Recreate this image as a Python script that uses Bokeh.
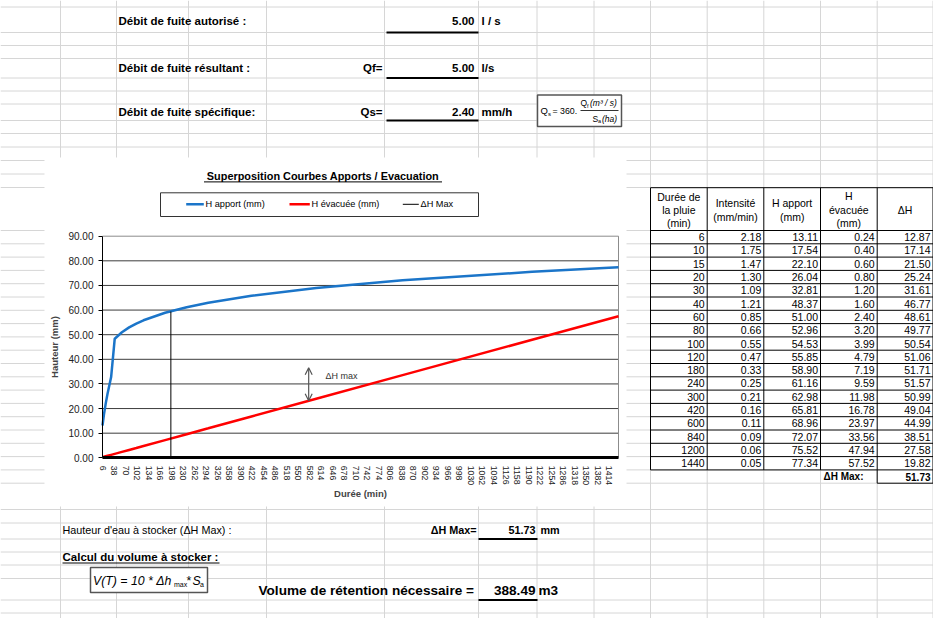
from bokeh.plotting import figure
from bokeh.models import (Range1d, LinearAxis, FixedTicker, PrintfTickFormatter,
                          Arrow, OpenHead, Label)
from bokeh.core.properties import value
from bokeh.embed import file_html
from bokeh.resources import INLINE

# ---------------- data ----------------
durations = [6, 10, 15, 20, 30, 40, 60, 80, 100, 120, 180, 240, 300, 420, 600, 840, 1200, 1440]
intensite = [2.18, 1.75, 1.47, 1.30, 1.09, 1.21, 0.85, 0.66, 0.55, 0.47, 0.33, 0.25, 0.21, 0.16, 0.11, 0.09, 0.06, 0.05]
h_apport = [13.11, 17.54, 22.10, 26.04, 32.81, 48.37, 51.00, 52.96, 54.53, 55.85, 58.90, 61.16, 62.98, 65.81, 68.96, 72.07, 75.52, 77.34]
h_evacuee = [0.24, 0.40, 0.60, 0.80, 1.20, 1.60, 2.40, 3.20, 3.99, 4.79, 7.19, 9.59, 11.98, 16.78, 23.97, 33.56, 47.94, 57.52]
delta_h = [12.87, 17.14, 21.50, 25.24, 31.61, 46.77, 48.61, 49.77, 50.54, 51.06, 51.71, 51.57, 50.99, 49.04, 44.99, 38.51, 27.58, 19.82]
dh_max_line_t = [196, 196]
dh_max_line_h = [0.0, 59.4]
dh_max = 51.73
debit_autorise = 5.00
qf = 5.00
qs = 2.40
volume = 388.49
y_ticks = [0, 10, 20, 30, 40, 50, 60, 70, 80, 90]
x_tick_labels = [6, 38, 70, 102, 134, 166, 198, 230, 262, 294, 326, 358, 390, 422, 454,
                 486, 518, 550, 582, 614, 646, 678, 710, 742, 774, 806, 838, 870, 902, 934,
                 966, 998, 1030, 1062, 1094, 1126, 1158, 1190, 1222, 1254, 1286, 1318, 1350,
                 1382, 1414]
arrow_t = 579
arrow_h0 = 23.2
arrow_h1 = 36.6
arrow_label_t = 626
arrow_label_h = 33.4

# ---------------- page / styles ----------------
FONT = value("Liberation Sans")
W, H = 933, 618
X0, Y0 = 0, 0
BLUE = "#1B75C9"
RED = "#FF0000"
GRIDC = "#D6D6D6"

p = figure(width=W, height=H, x_range=Range1d(X0, X0 + W), y_range=Range1d(Y0 + H, Y0),
           output_backend="svg", toolbar_location=None, x_axis_type=None, y_axis_type=None,
           min_border=0, outline_line_color=None, background_fill_color="white",
           border_fill_color="white")
p.title.visible = False


def txt(x, y, s, size=10, bold=False, align="left", color="black", italic=False):
    style = "bold" if bold else ("italic" if italic else "normal")
    if bold and italic:
        style = "bold italic"
    p.text(x=[x], y=[y], text=[s], text_font=FONT, text_font_size=f"{size}px",
           text_font_style=style, text_align=align, text_baseline="middle", text_color=color)


def hline(x0, x1, y, color="black", width=1):
    p.segment(x0=[x0], x1=[x1], y0=[y], y1=[y], line_color=color, line_width=width)


def box(l, r, t, b, line="black", width=1, fill="white"):
    p.quad(left=[l], right=[r], top=[t], bottom=[b], fill_color=fill, line_color=line, line_width=width)


# ---------------- spreadsheet grid ----------------
row_lines = [6.5, 32, 45, 58, 77.5, 90.5, 103.5, 120, 133, 146.5, 160, 173.5, 187]
row_lines += [230 + 13.3 * k for k in range(20)]
row_lines += [509, 522.5, 538.5, 551.5, 564.5, 578, 599.5, 612.5]
col_lines = [60, 116, 188, 266, 384, 478, 536.5, 593.5, 650, 706.7, 763.3, 820, 876.7, 932.5]
p.segment(x0=X0, x1=X0 + W, y0=row_lines, y1=row_lines, line_color=GRIDC, line_width=1)
p.segment(x0=col_lines, x1=col_lines, y0=Y0, y1=Y0 + H, line_color=GRIDC, line_width=1)

# ---------------- top section ----------------
TS = 11.5
txt(118, 20.5, "Débit de fuite autorisé :", TS, bold=True)
txt(474, 20.5, f"{debit_autorise:.2f}", TS, bold=True, align="right")
txt(481, 20.5, "l / s", TS, bold=True)
hline(386, 478, 32, width=2)

txt(118, 67, "Débit de fuite résultant :", TS, bold=True)
txt(382, 67, "Qf=", TS, bold=True, align="right")
txt(474, 67, f"{qf:.2f}", TS, bold=True, align="right")
txt(481, 67, "l/s", TS, bold=True)
hline(386, 478, 77.5, width=2)

txt(118, 111, "Débit de fuite spécifique:", TS, bold=True)
txt(382, 111, "Qs=", TS, bold=True, align="right")
txt(474, 111, f"{qs:.2f}", TS, bold=True, align="right")
txt(481, 111, "mm/h", TS, bold=True)
hline(386, 478, 120, width=2)

# formula box Qs = 360. Qf(m3/s)/Sa(ha)
box(537, 621, 94.5, 126, line="#555555", width=1.5)
txt(540, 110, "Q", 9.5)
txt(547.5, 113, "s", 6)
txt(552, 110, "= 360.", 8.8)
txt(580, 102.5, "Q", 8.5)
txt(586.5, 105, "f", 5.5)
txt(589.5, 102.5, "(m³ / s)", 8.5, italic=True)
hline(580, 618, 110, color="#333333")
txt(592, 118, "S", 8.5)
txt(597.5, 120.5, "a", 5.5)
txt(601.5, 118, "(ha)", 8.5, italic=True)

# ---------------- chart area ----------------
box(44, 626, 157, 506, line=None)

PX_L, PX_R = 102, 618
PY_0, PY_90 = 457.3, 235.7
t_min, t_max = durations[0], durations[-1]
y_lo, y_hi = y_ticks[0], y_ticks[-1]
sx = (PX_R - PX_L) / (t_max - t_min)
sy = (PY_0 - PY_90) / (y_hi - y_lo)
p.extra_x_ranges = {"cx": Range1d(t_min + (X0 - PX_L) / sx, t_min + (X0 + W - PX_L) / sx)}
p.extra_y_ranges = {"cy": Range1d(y_lo - (Y0 + H - PY_0) / sy, y_lo + (PY_0 - Y0) / sy)}
C = dict(x_range_name="cx", y_range_name="cy")

# title
txt(322.5, 175.7, "Superposition Courbes Apports / Evacuation", 10.9, bold=True, align="center")
hline(203.5, 441.5, 181.4, width=1)

# legend
box(160, 478, 192.3, 216, line="#333333", width=1)
hline(185.7, 203.3, 203.8, color=BLUE, width=2.5)
txt(205, 203.8, "H apport (mm)", 9.2)
hline(289, 309.3, 203.8, color=RED, width=2.5)
txt(311, 203.8, "H évacuée (mm)", 9.2)
hline(402.3, 418.3, 203.8, color="black", width=1)
txt(420, 203.8, "ΔH Max", 9.2)

# grid lines & plot border
inner = y_ticks[1:-1]
p.segment(x0=t_min, x1=t_max, y0=inner, y1=inner, line_color="#3C3C3C", line_width=1, **C)
p.segment(x0=[t_min, t_max], x1=[t_max, t_max], y0=[y_hi, y_lo], y1=[y_hi, y_hi],
          line_color="#8C8C8C", line_width=1, **C)

# series
p.line(durations, h_evacuee, line_color=RED, line_width=2.5, **C)
p.line(durations, h_apport, line_color=BLUE, line_width=2.5, **C)
p.line(dh_max_line_t, dh_max_line_h, line_color="black", line_width=1, **C)

# axes
yax = LinearAxis(fixed_location=t_min, bounds=(y_lo, y_hi), ticker=FixedTicker(ticks=y_ticks),
                 formatter=PrintfTickFormatter(format="%.2f"), axis_label="Hauteur (mm)", **C)
yax.axis_line_color = "black"
yax.major_tick_out = 4
yax.major_tick_in = 0
yax.minor_tick_line_color = None
yax.major_label_standoff = 5
yax.major_label_text_font = "Liberation Sans"
yax.major_label_text_font_size = "10px"
yax.major_label_text_color = "#222222"
yax.axis_label_text_font = "Liberation Sans"
yax.axis_label_text_font_size = "9.5px"
yax.axis_label_text_font_style = "bold"
yax.axis_label_standoff = 5
p.add_layout(yax, "left")

xax = LinearAxis(fixed_location=y_lo, bounds=(t_min, t_max), ticker=FixedTicker(ticks=x_tick_labels),
                 axis_label="Durée (min)", **C)
xax.axis_line_color = "black"
xax.axis_line_width = 3
xax.major_tick_line_color = None
xax.minor_tick_line_color = None
xax.major_label_orientation = "vertical"
xax.major_label_standoff = 2
xax.major_label_text_font = "Liberation Sans"
xax.major_label_text_font_size = "8.7px"
xax.major_label_text_color = "#222222"
xax.axis_label_text_font = "Liberation Sans"
xax.axis_label_text_font_size = "9.5px"
xax.axis_label_text_font_style = "bold"
xax.axis_label_standoff = 0
p.add_layout(xax, "below")

# delta H max annotation
p.add_layout(Arrow(x_start=arrow_t, y_start=arrow_h0, x_end=arrow_t, y_end=arrow_h1,
                   start=OpenHead(size=7, line_color="#555555", line_width=1.2),
                   end=OpenHead(size=7, line_color="#555555", line_width=1.2),
                   line_color="#555555", line_width=1.2, **C))
p.add_layout(Label(x=arrow_label_t, y=arrow_label_h, text="ΔH max", text_font="Liberation Sans",
                   text_font_size="9px", text_color="#333333", text_baseline="middle", **C))

# ---------------- table ----------------
tcols = [650, 706.7, 763.3, 820, 876.7, 932.5]
t_top, t_hdr, rh = 187.2, 230, 13.3
n = len(durations)
t_bot = t_hdr + rh * n
box(tcols[0], tcols[-1], t_top, t_bot, line=None)
box(tcols[4], tcols[5], t_bot, t_bot + rh, line=None)
p.segment(x0=tcols, x1=tcols, y0=t_top, y1=t_bot, line_color="black", line_width=1)
hys = [t_top, t_hdr] + [t_hdr + rh * (k + 1) for k in range(n)]
p.segment(x0=tcols[0], x1=tcols[-1], y0=hys, y1=hys, line_color="black", line_width=1)
p.segment(x0=[tcols[4], tcols[5], tcols[4]], x1=[tcols[4], tcols[5], tcols[5]],
          y0=[t_bot, t_bot, t_bot + rh], y1=[t_bot + rh, t_bot + rh, t_bot + rh],
          line_color="black", line_width=1)

cc = [(tcols[i] + tcols[i + 1]) / 2 for i in range(5)]
for s, y in [("Durée de", 196), ("la pluie", 209.3), ("(min)", 222.7)]:
    txt(cc[0], y, s, 10.5, align="center")
for s, y in [("Intensité", 202.7), ("(mm/min)", 216)]:
    txt(cc[1], y, s, 10.5, align="center")
for s, y in [("H apport", 202.7), ("(mm)", 216)]:
    txt(cc[2], y, s, 10.5, align="center")
for s, y in [("H", 195.5), ("évacuée", 209.3), ("(mm)", 222.7)]:
    txt(cc[3], y, s, 10.5, align="center")
txt(cc[4], 209.3, "ΔH", 10.5, align="center")

row_y = [t_hdr + rh * (k + 0.5) for k in range(n)]
columns = [[str(d) for d in durations],
           [f"{v:.2f}" for v in intensite],
           [f"{v:.2f}" for v in h_apport],
           [f"{v:.2f}" for v in h_evacuee],
           [f"{v:.2f}" for v in delta_h]]
for i, col in enumerate(columns):
    p.text(x=[tcols[i + 1] - 2.5] * n, y=row_y, text=col, text_font=FONT, text_font_size="10.5px",
           text_align="right", text_baseline="middle", text_color="black")
txt(823, t_bot + rh / 2, "ΔH Max:", 10, bold=True)
txt(tcols[5] - 2.5, t_bot + rh / 2, f"{dh_max:.2f}", 10, bold=True, align="right")

# ---------------- bottom section ----------------
txt(62, 529, "Hauteur d'eau à stocker (ΔH Max) :", 10.8)
txt(476, 529, "ΔH Max=", 10.8, bold=True, align="right")
txt(535, 529, f"{dh_max:.2f}", 10.8, bold=True, align="right")
txt(540, 529, "mm", 10.8, bold=True)
hline(478, 537, 538.5, width=2)

txt(62, 556, "Calcul du volume à stocker :", 11.5, bold=True)
hline(62, 219, 562.5, width=1)

box(90, 207, 567, 592, line="#555555", width=1.5)
txt(92.5, 580, "V(T) = 10 * Δh", 12.3, italic=True)
txt(173.5, 583.5, "max", 7)
txt(186, 580, "*", 12.3)
txt(192, 580, "S", 12.3, italic=True)
txt(199.5, 584, "a", 7)

txt(258, 590, "Volume de rétention nécessaire =", 13.6, bold=True)
txt(535, 590, f"{volume:.2f}", 13.6, bold=True, align="right")
txt(538, 590, "m3", 13.6, bold=True)
hline(478, 537, 599.5, width=2)

open("out.html", "w").write(file_html(p, INLINE))
